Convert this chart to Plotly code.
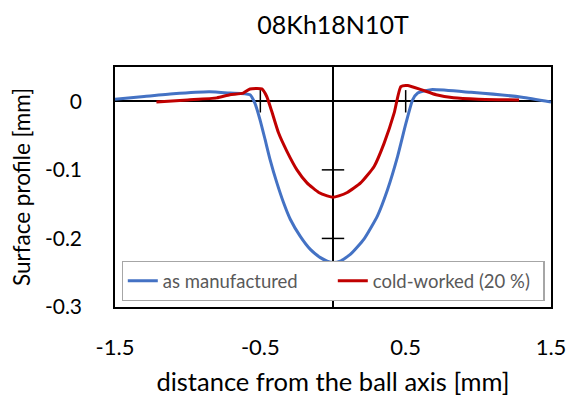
import plotly.graph_objects as go

# ---- data ----
x_manufactured = [-1.5, -1.3, -1.1, -0.85, -0.71, -0.571, -0.537, -0.502, -0.467, -0.433,
                  -0.386, -0.34, -0.294, -0.225, -0.156, -0.087, -0.04, 0.0, 0.05, 0.121,
                  0.213, 0.306, 0.375, 0.445, 0.502, 0.548, 0.583, 0.675, 0.95, 1.3, 1.5]
y_manufactured = [0.003, 0.007, 0.011, 0.014, 0.012, 0.0095, -0.003, -0.027, -0.056, -0.085,
                  -0.119, -0.148, -0.172, -0.197, -0.216, -0.228, -0.233, -0.235, -0.233, -0.223,
                  -0.201, -0.167, -0.129, -0.080, -0.032, 0.002, 0.012, 0.017, 0.013, 0.006, -0.001]

x_cold = [-1.215, -1.0, -0.8, -0.71, -0.618, -0.571, -0.49, -0.456, -0.421, -0.375,
          -0.317, -0.248, -0.179, -0.098, -0.04, 0.0, 0.04, 0.098, 0.19, 0.283, 0.352, 0.421,
          0.467, 0.514, 0.606, 0.71, 0.83, 1.0, 1.28]
y_cold = [-0.001, 0.002, 0.005, 0.0095, 0.012, 0.018, 0.018, 0.007, -0.015, -0.046,
          -0.073, -0.1, -0.119, -0.133, -0.138, -0.14, -0.138, -0.133, -0.119, -0.095, -0.061, -0.017,
          0.0215, 0.023, 0.017, 0.0095, 0.005, 0.003, 0.002]

x_ticks = [-1.5, -0.5, 0.5, 1.5]
x_tick_text = ["-1.5", "-0.5", "0.5", "1.5"]
y_ticks = [0, -0.1, -0.2, -0.3]
y_tick_text = ["0", "-0.1", "-0.2", "-0.3"]

series_names = ["as manufactured", "cold-worked (20 %)"]

FONT = "Lato"
BLUE = "#4472C4"
RED = "#C00000"

fig = go.Figure()

# cross-style tick marks on the axes that pass through zero
inner_x = [v for v in x_ticks if abs(v) < 1.5]
inner_y = [v for v in y_ticks if -0.3 < v < 0]
fig.add_trace(go.Scatter(x=inner_x, y=[0] * len(inner_x), mode="markers", showlegend=False,
                         hoverinfo="skip",
                         marker=dict(symbol="line-ns", size=16, line=dict(color="black", width=1.5))))
fig.add_trace(go.Scatter(x=[0] * len(inner_y), y=inner_y, mode="markers", showlegend=False,
                         hoverinfo="skip",
                         marker=dict(symbol="line-ew", size=16, line=dict(color="black", width=1.5))))

fig.add_trace(go.Scatter(x=x_manufactured, y=y_manufactured, mode="lines", name=series_names[0],
                         line=dict(color=BLUE, width=3, shape="spline", smoothing=0.5)))
fig.add_trace(go.Scatter(x=x_cold, y=y_cold, mode="lines", name=series_names[1],
                         line=dict(color=RED, width=3, shape="spline", smoothing=0.5)))

fig.update_layout(
    width=576, height=398,
    margin=dict(l=115, r=25, t=67, b=91),
    paper_bgcolor="white", plot_bgcolor="white",
    font=dict(family=FONT, color="black", size=22),
    title=dict(text="08Kh18N10T", x=0.5, xref="paper", xanchor="center",
               y=1 - 25 / 398, yref="container", yanchor="middle",
               font=dict(family=FONT, size=25, color="black")),
    showlegend=True,
    legend=dict(orientation="h", x=0.5, xanchor="center", y=0.025, yanchor="bottom",
                bgcolor="white", bordercolor="#A6A6A6", borderwidth=1.3,
                font=dict(family=FONT, size=18.5, color="#595959"),
                entrywidth=165, traceorder="normal"),
    xaxis=dict(range=[-1.5, 1.5], tickvals=x_ticks, ticktext=x_tick_text, automargin=False,
               showgrid=False, showline=True, mirror=True, linecolor="black", linewidth=1.5,
               zeroline=True, zerolinecolor="black", zerolinewidth=1.5,
               ticks="", ticklabelstandoff=20, tickfont=dict(size=22),
               title=dict(text="distance from the ball axis [mm]", font=dict(size=25.5), standoff=14)),
    yaxis=dict(range=[-0.3, 0.05], tickvals=y_ticks, ticktext=y_tick_text, automargin=False,
               showgrid=False, showline=True, mirror=True, linecolor="black", linewidth=1.5,
               zeroline=True, zerolinecolor="black", zerolinewidth=1.5,
               ticks="", ticklabelstandoff=27, tickfont=dict(size=21),
               title=dict(text="Surface profile [mm]", font=dict(size=22.5), standoff=8)),
)

fig.write_html("out.html")
